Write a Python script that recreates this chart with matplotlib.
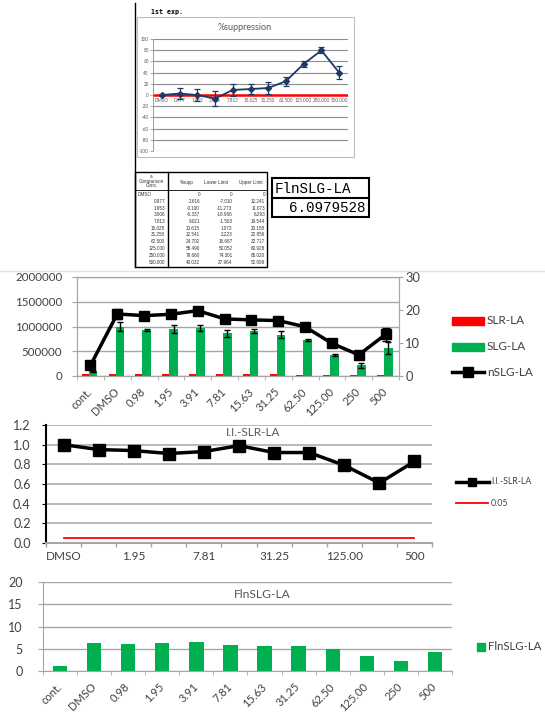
import numpy as np
import matplotlib
matplotlib.use("Agg")
import matplotlib.pyplot as plt
from matplotlib.patches import Rectangle
from matplotlib.ticker import FixedLocator

plt.rcParams['font.family'] = ['Lato', 'DejaVu Sans']

# ---------------- data ----------------
# %suppression, 1st experiment
conc_labels = ['DMSO', '0.977', '1.953', '3.906', '7.813', '15.625', '31.250',
               '62.500', '125.000', '250.000', '500.000']
supp = [0, 2.616, -0.100, -6.337, 9.021, 10.615, 12.541, 24.702, 55.490, 79.660, 40.032]
supp_lower = [0, -7.010, -11.273, -18.966, -1.503, 1.073, 2.223, 16.687, 50.052, 74.301, 27.964]
supp_upper = [0, 12.241, 11.073, 6.293, 19.544, 20.158, 22.859, 32.717, 60.928, 85.020, 52.099]
supp_yticks = list(range(-100, 101, 20))
table_headers = ['%supp', 'Lower Limit', 'Upper Limit']

fln_box_label = 'FlnSLG-LA'
fln_box_value = '6.0979528'

# raw luciferase signals
cats = ['cont.', 'DMSO', '0.98', '1.95', '3.91', '7.81', '15.63', '31.25',
        '62.50', '125.00', '250', '500']
slr = [40000, 40000, 40000, 40000, 40000, 40000, 40000, 40000, 30000, 20000, 15000, 25000]
slg = [95000, 1000000, 930000, 950000, 970000, 860000, 910000, 830000, 725000, 420000, 215000, 560000]
slg_err = [15000, 85000, 25000, 90000, 70000, 65000, 40000, 70000, 20000, 15000, 45000, 120000]
nslg = [3.2, 18.8, 18.3, 18.7, 19.8, 17.3, 17.0, 16.8, 14.9, 9.9, 6.4, 12.6]
nslg_err = [0.4, 1.6, 0.5, 0.6, 0.8, 0.5, 0.5, 0.5, 0.4, 0.5, 0.5, 2.0]
left_ticks = [0, 500000, 1000000, 1500000, 2000000]
right_ticks = [0, 10, 20, 30]

# inhibition index
ii_cats = ['DMSO', '0.98', '1.95', '3.91', '7.81', '15.63', '31.25',
           '62.50', '125.00', '250', '500']
ii_slr = [1.00, 0.95, 0.94, 0.91, 0.93, 0.99, 0.92, 0.92, 0.79, 0.61, 0.83]
ii_threshold = [0.05] * 11
ii_ticks = [0.0, 0.2, 0.4, 0.6, 0.8, 1.0, 1.2]

# fold induction
fln = [1.06, 6.2, 6.1, 6.2, 6.5, 5.8, 5.7, 5.6, 4.9, 3.4, 2.2, 4.2]
fln_ticks = [0, 5, 10, 15, 20]

# ---------------- figure ----------------
W, H = 545, 715
fig = plt.figure(figsize=(W / 100, H / 100), dpi=100)

GREEN = '#00b050'
RED = '#ff0000'
GRID = '#a6a6a6'
TXT = '#404040'
NAVY = '#1f3864'


def box(x0, y0, x1, y1):
    return [x0 / W, 1 - y1 / H, (x1 - x0) / W, (y1 - y0) / H]


# ---- %suppression mini chart ----
ax0 = fig.add_axes(box(153, 39, 348, 151))
xs0 = np.arange(len(conc_labels))
ax0.set_xlim(-0.5, len(conc_labels) - 0.5)
ax0.set_ylim(-100, 100)
ax0.set_yticks(supp_yticks)
ax0.set_yticklabels([str(v) for v in supp_yticks])
ax0.tick_params(axis='y', length=2, width=0.5, color='#8c8c8c', labelsize=3.3,
                labelcolor='#595959', pad=1)
ax0.grid(axis='y', color='#8c8c8c', lw=0.8)
ax0.set_axisbelow(True)
for s in ['top', 'right']:
    ax0.spines[s].set_visible(False)
ax0.spines['left'].set_color('#8c8c8c')
ax0.spines['left'].set_linewidth(0.6)
ax0.spines['bottom'].set_position(('data', 0))
ax0.spines['bottom'].set_visible(False)
ax0.set_xticks(xs0)
ax0.set_xticklabels(conc_labels, fontsize=3.3, color='#595959')
ax0.tick_params(axis='x', length=0, pad=2)
ax0.axhline(0, color=RED, lw=1.8, zorder=2)
lo = np.array(supp) - np.array(supp_lower)
hi = np.array(supp_upper) - np.array(supp)
ax0.errorbar(xs0, supp, yerr=[lo, hi], color=NAVY, lw=1.3, marker='D', ms=3,
             capsize=2, elinewidth=0.9, capthick=0.9, zorder=3)

# ---- luciferase bars + normalized line ----
ax1 = fig.add_axes(box(77, 277, 399, 376))
pos = np.arange(len(cats))
ax1.bar(pos - 0.19, slr, width=0.26, color=RED, zorder=2)
ax1.bar(pos + 0.10, slg, width=0.32, color=GREEN, zorder=2)
ax1.errorbar(pos + 0.10, slg, yerr=slg_err, fmt='none', ecolor='black',
             elinewidth=1, capsize=2.5, capthick=1, zorder=3)
ax1.set_xlim(-0.5, len(cats) - 0.5)
ax1.set_ylim(left_ticks[0], left_ticks[-1])
ax1.set_yticks(left_ticks)
ax1.set_yticklabels([str(v) for v in left_ticks])
ax1.grid(axis='y', color=GRID, lw=1)
ax1.set_axisbelow(True)
for s in ax1.spines.values():
    s.set_color(GRID)
ax1.tick_params(axis='y', length=3.6, color=GRID, pad=7, labelsize=8.3, labelcolor=TXT)
ax1.set_xticks(pos)
ax1.set_xticklabels(cats, rotation=45, ha='right', va='center',
                    rotation_mode='anchor', fontsize=8, color=TXT)
ax1.xaxis.set_minor_locator(FixedLocator(np.arange(-0.5, len(cats), 1)))
ax1.tick_params(axis='x', which='major', length=0, pad=10)
ax1.tick_params(axis='x', which='minor', length=3, color=GRID)

ax1r = ax1.twinx()
ax1r.set_ylim(right_ticks[0], right_ticks[-1])
ax1r.set_yticks(right_ticks)
ax1r.errorbar(pos, nslg, yerr=nslg_err, color='black', lw=2.5, marker='s', ms=7,
              capsize=3, elinewidth=1, capthick=1, zorder=4)
ax1r.tick_params(axis='y', length=3, color=GRID, pad=1.5, labelsize=9.3, labelcolor=TXT)
for s in ax1r.spines.values():
    s.set_color(GRID)

# ---- inhibition index ----
ax2 = fig.add_axes(box(46, 425, 432, 543))
xi = np.arange(len(ii_cats))
ax2.set_xlim(-0.5, len(ii_cats) - 0.5)
ax2.set_ylim(ii_ticks[0], ii_ticks[-1])
ax2.plot(xi, ii_slr, color='black', lw=2.5, marker='s', ms=8, zorder=3)
ax2.plot(xi, ii_threshold, color=RED, lw=1.3, zorder=2)
ax2.set_yticks(ii_ticks)
ax2.set_yticklabels([f'{v:.1f}' for v in ii_ticks])
ax2.grid(axis='y', color=GRID, lw=1.1)
ax2.set_axisbelow(True)
ax2.spines['top'].set_visible(False)
ax2.spines['right'].set_visible(False)
ax2.spines['left'].set_color('black')
ax2.spines['left'].set_linewidth(1.5)
ax2.spines['bottom'].set_color(GRID)
ax2.spines['bottom'].set_linewidth(1.5)
ax2.tick_params(axis='y', length=3, color='black', pad=8, labelsize=9, labelcolor=TXT)
ax2.set_xticks(xi[::2])
ax2.set_xticklabels(ii_cats[::2], fontsize=8.5, color=TXT)
ax2.xaxis.set_minor_locator(FixedLocator(np.arange(-0.5, len(ii_cats), 1)))
ax2.tick_params(axis='x', which='major', length=0, pad=6)
ax2.tick_params(axis='x', which='minor', length=3, color=GRID, width=1)

# ---- fold induction ----
ax3 = fig.add_axes(box(43, 582, 452, 671))
ax3.bar(pos, fln, width=0.42, color=GREEN, zorder=2)
ax3.set_xlim(-0.5, len(cats) - 0.5)
ax3.set_ylim(fln_ticks[0], fln_ticks[-1])
ax3.set_yticks(fln_ticks)
ax3.grid(axis='y', color=GRID, lw=1)
ax3.set_axisbelow(True)
ax3.spines['top'].set_visible(False)
ax3.spines['right'].set_visible(False)
ax3.spines['left'].set_color(GRID)
ax3.spines['bottom'].set_color(GRID)
ax3.tick_params(axis='y', length=3.6, color=GRID, pad=11, labelsize=9, labelcolor=TXT)
ax3.set_xticks(pos)
ax3.set_xticklabels(cats, rotation=45, ha='right', va='center',
                    rotation_mode='anchor', fontsize=8, color=TXT)
ax3.xaxis.set_minor_locator(FixedLocator(np.arange(-0.5, len(cats), 1)))
ax3.tick_params(axis='x', which='major', length=0, pad=10)
ax3.tick_params(axis='x', which='minor', length=3, color=GRID)

# ---- pixel overlay: frames, table, legends, titles ----
ov = fig.add_axes([0, 0, 1, 1], facecolor='none')
ov.set_xlim(0, W)
ov.set_ylim(H, 0)
ov.axis('off')

# sheet lines
ov.plot([135, 135], [3, 267], color='black', lw=1)
ov.plot([0, W], [271, 271], color='#e3e3e3', lw=1)
ov.text(151, 12, '1st exp.', fontsize=4.8, fontweight='bold',
        family='DejaVu Sans Mono', va='center', ha='left')
ov.add_patch(Rectangle((136.5, 17), 217.5, 140, fill=False, ec='#bfbfbf', lw=0.8))
ov.text(245, 27, '%suppression', fontsize=6.5, color='#595959', ha='center', va='center')

# summary table
ov.add_patch(Rectangle((135, 172), 132, 95, fill=False, ec='black', lw=1))
ov.plot([168, 168], [172, 267], color='black', lw=1)
ov.plot([135, 267], [190, 190], color='black', lw=0.6)
tkw = dict(fontsize=3.3, color='#333333', family='Liberation Sans', va='center')
ov.text(151.5, 176.5, 'a', ha='center', **tkw)
ov.text(151.5, 181, 'Comparison', ha='center', **tkw)
ov.text(151.5, 185.5, 'Conc.', ha='center', **tkw)
for hx, hs in zip([187, 216, 251], table_headers):
    ov.text(hx, 182.5, hs, ha='center', **tkw)
row_y = 194.5
for i, c in enumerate(conc_labels):
    y = row_y + i * 6.75
    if i == 0:
        ov.text(138, y, c, ha='left', **tkw)
        vals = ['0', '0', '0']
    else:
        ov.text(165, y, c, ha='right', **tkw)
        vals = [f'{supp[i]:.3f}', f'{supp_lower[i]:.3f}', f'{supp_upper[i]:.3f}']
    for vx, vs in zip([200, 232.5, 265], vals):
        ov.text(vx, y, vs, ha='right', **tkw)

# FlnSLG-LA cell box
ov.add_patch(Rectangle((272, 178), 97, 39, fill=False, ec='black', lw=1.5))
ov.plot([272, 369], [198, 198], color='black', lw=1.5)
ov.text(275, 189, fln_box_label, family='Liberation Mono', fontsize=10.3,
        ha='left', va='center')
ov.text(366, 208.5, fln_box_value, family='Liberation Mono', fontsize=10.3,
        ha='right', va='center')

# legend for luciferase chart
lkw = dict(fontsize=8.5, color=TXT, va='center', ha='left')
ov.add_patch(Rectangle((452, 317), 32, 8, color=RED))
ov.text(487, 321, 'SLR-LA', **lkw)
ov.add_patch(Rectangle((452, 343), 32, 8, color=GREEN))
ov.text(487, 347, 'SLG-LA', **lkw)
ov.plot([452, 484], [372, 372], color='black', lw=2.5)
ov.plot([468], [372], marker='s', ms=7, color='black')
ov.text(487, 372, 'nSLG-LA', **lkw)

# legend + title for inhibition index
ov.text(253, 433, 'I.I.-SLR-LA', fontsize=8.5, color='#595959', ha='center', va='center')
ov.plot([456, 489], [482, 482], color='black', lw=2.5)
ov.plot([472], [482], marker='s', ms=5.5, color='black')
ov.text(491, 482, 'I.I.-SLR-LA', fontsize=6.3, color=TXT, va='center', ha='left')
ov.plot([456, 488], [503, 503], color=RED, lw=1.3)
ov.text(491, 503, '0.05', fontsize=6.3, color=TXT, va='center', ha='left')

# legend + title for fold induction
ov.text(262, 595, 'FlnSLG-LA', fontsize=8.7, color='#595959', ha='center', va='center')
ov.add_patch(Rectangle((477, 643), 8, 8, color=GREEN))
ov.text(488, 647, 'FlnSLG-LA', fontsize=8.2, color=TXT, va='center', ha='left')

fig.savefig('out.png', dpi=100)
